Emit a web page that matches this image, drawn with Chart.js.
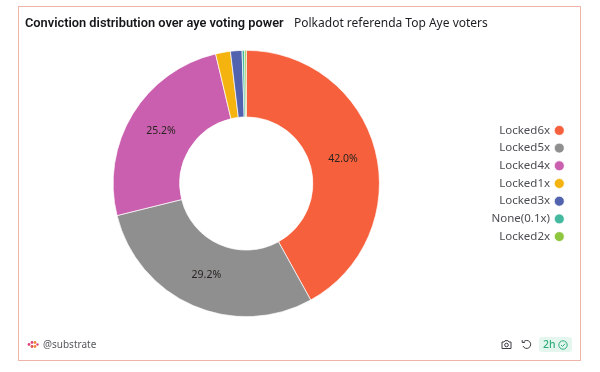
<!DOCTYPE html>
<html>
<head>
<meta charset="utf-8">
<title>Conviction distribution</title>
<script src="https://cdn.jsdelivr.net/npm/chart.js@4/dist/chart.umd.min.js"></script>
<style>
    html, body { margin: 0; padding: 0; background: #fff; }
    body { width: 600px; height: 372px; overflow: hidden; position: relative; font-family: "Noto Sans", sans-serif; }
    #frame { position: absolute; left: 18px; top: 6px; width: 563px; height: 355px; border: 1px solid #eeb4a7; box-sizing: border-box; }
    #chart { position: absolute; left: 0; top: 0; }
    .txt { position: absolute; white-space: nowrap; }
    #title { left: 25px; top: 14px; font-family: Roboto, sans-serif; font-size: 12.8px; line-height: 17px; font-weight: 600; color: #14161a; }
    #subtitle { left: 294px; top: 14px; font-size: 12px; line-height: 17px; color: #1c1e22; }
    #handle { left: 43px; top: 337px; font-size: 10px; line-height: 15px; color: #55585e; }
    #badge { left: 539px; top: 337px; width: 33px; height: 15px; background: #e4f6ee; border-radius: 3px; }
    #badge span { position: absolute; left: 4px; top: 0; font-size: 10.5px; line-height: 15px; font-weight: 500; color: #2fae7c; }
    svg { position: absolute; }
</style>
</head>
<body>
<div id="frame"></div>
<canvas id="chart" width="600" height="372"></canvas>
<div class="txt" id="title">Conviction distribution over aye voting power</div>
<div class="txt" id="subtitle">Polkadot referenda Top Aye voters</div>

<svg style="left:27px;top:340px" width="12" height="9" viewBox="0 0 12 9">
    <circle cx="2" cy="4.5" r="1.4" fill="#e0457b"/>
    <circle cx="5" cy="2.5" r="1.4" fill="#e0457b"/>
    <circle cx="5" cy="6.5" r="1.4" fill="#d9534f"/>
    <circle cx="8" cy="2.5" r="1.4" fill="#f08a3c"/>
    <circle cx="8" cy="6.5" r="1.4" fill="#f08a3c"/>
    <circle cx="10.5" cy="4.5" r="1.2" fill="#e0457b"/>
</svg>
<div class="txt" id="handle">@substrate</div>

<svg style="left:501px;top:339px" width="11" height="11" viewBox="0 0 11 11" fill="none" stroke="#3a3d42" stroke-width="1">
    <path d="M1 3h2l1-1.3h3L8 3h2v6.5H1z"/>
    <circle cx="5.5" cy="6" r="1.8"/>
</svg>
<svg style="left:521px;top:339px" width="11" height="11" viewBox="0 0 11 11" fill="none" stroke="#3a3d42" stroke-width="1">
    <path d="M2.5 3A4 4 0 1 1 2 7"/>
    <path d="M1.2 1v2.5h2.6"/>
</svg>
<div class="txt" id="badge">
    <span>2h</span>
    <svg style="left:19px;top:3px" width="10" height="10" viewBox="0 0 10 10" fill="none" stroke="#2fae7c" stroke-width="1">
        <circle cx="5" cy="5" r="4.2"/>
        <path d="M3 5l1.5 1.5L7 3.8"/>
    </svg>
</div>

<script>
// chart values
const categories = ['Locked6x', 'Locked5x', 'Locked4x', 'Locked1x', 'Locked3x', 'None(0.1x)', 'Locked2x'];
const shares = [42.0, 29.2, 25.2, 1.8, 1.4, 0.3, 0.2];
const sliceColors = ['#f6603d', '#8f8f8f', '#c95fae', '#f4b30f', '#5162ae', '#45b9a0', '#8fc63f'];

// percent text in the middle of the big slices
const sliceLabels = {
    id: 'sliceLabels',
    afterDatasetsDraw(chart) {
        const ctx = chart.ctx;
        const arcs = chart.getDatasetMeta(0).data;
        ctx.save();
        ctx.font = '10.5px "Noto Sans", sans-serif';
        ctx.fillStyle = '#2a2420';
        ctx.textAlign = 'center';
        ctx.textBaseline = 'middle';
        arcs.forEach((arc, i) => {
            if (shares[i] < 5) return;
            const pos = arc.tooltipPosition();
            ctx.fillText(shares[i].toFixed(1) + '%', pos.x, pos.y);
        });
        ctx.restore();
    }
};

new Chart(document.getElementById('chart'), {
    type: 'doughnut',
    data: {
        labels: categories,
        datasets: [{
            data: shares,
            backgroundColor: sliceColors,
            borderColor: '#ffffff',
            borderWidth: 0.7
        }]
    },
    options: {
        responsive: false,
        animation: false,
        cutout: '50%',
        layout: { padding: { left: 11, right: 31, top: 50, bottom: 55 } },
        plugins: {
            tooltip: { enabled: false },
            legend: {
                position: 'right',
                rtl: true,
                textDirection: 'ltr',
                labels: {
                    usePointStyle: true,
                    pointStyle: 'circle',
                    boxWidth: 7,
                    boxHeight: 7,
                    padding: 6.2,
                    color: '#4a4d52',
                    font: { family: '"Noto Sans", sans-serif', size: 11.5 }
                }
            }
        }
    },
    plugins: [sliceLabels]
});
</script>
</body>
</html>
